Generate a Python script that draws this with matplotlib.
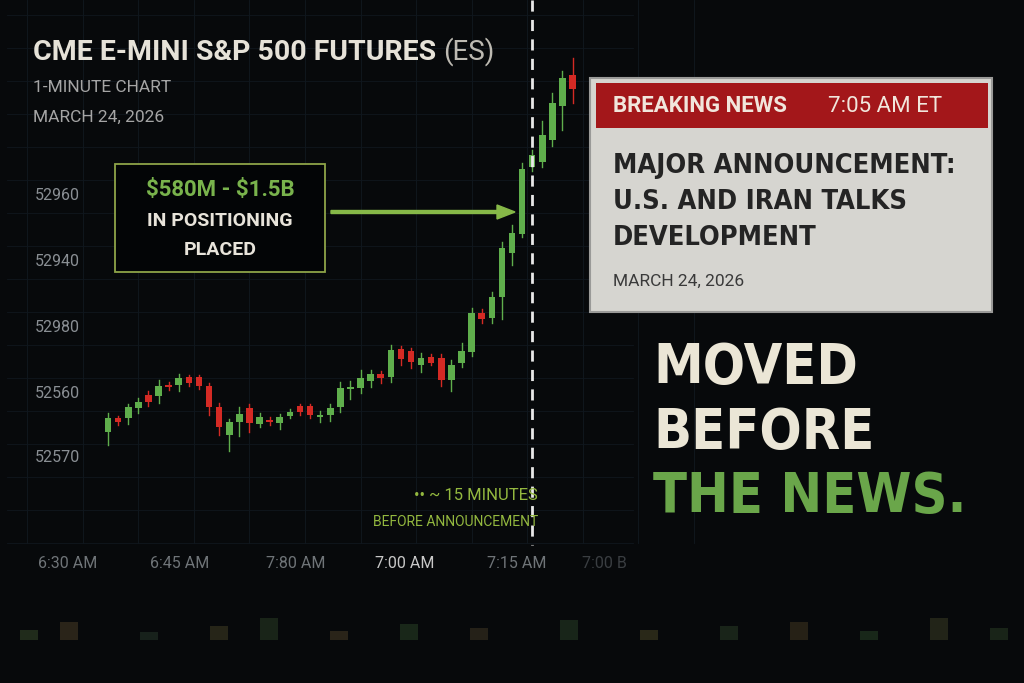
import matplotlib.pyplot as plt
from matplotlib.patches import Rectangle, FancyArrow
import numpy as np

# candle data (price levels in chart units, higher = up)
opens = [251, 265, 265, 275, 288, 287, 298, 298, 306, 306,
         297, 276, 248, 261, 275, 259, 263, 260, 267, 277,
         277, 266, 268, 276, 294, 295, 302, 309, 306, 334,
         332, 318, 326, 325, 303, 320, 331, 370, 365, 386,
         430, 449, 516, 521, 543, 577, 608]
closes = [265, 261, 276, 281, 281, 297, 296, 305, 300, 297,
          276, 256, 261, 269, 260, 266, 261, 266, 271, 271,
          268, 268, 275, 295, 295, 305, 309, 305, 333, 324,
          321, 325, 320, 303, 318, 332, 370, 364, 386, 435,
          450, 514, 528, 548, 580, 605, 594]
highs = [270, 267, 279, 285, 292, 303, 301, 309, 308, 308,
         300, 280, 264, 276, 279, 270, 266, 269, 274, 279,
         279, 272, 279, 301, 302, 313, 313, 312, 338, 337,
         335, 330, 329, 329, 323, 340, 375, 374, 391, 441,
         458, 520, 533, 562, 590, 612, 625]
lows = [238, 258, 259, 270, 277, 280, 293, 292, 297, 294,
        268, 248, 232, 247, 251, 256, 258, 254, 265, 268,
        265, 261, 262, 271, 284, 290, 296, 300, 301, 318,
        315, 311, 318, 297, 292, 316, 327, 360, 360, 364,
        418, 446, 512, 516, 537, 553, 580]
down = [False, True, False, False, True, False, True, False, True, True,
        True, True, False, False, True, False, True, False, False, True,
        True, False, False, False, False, False, False, True, False, True,
        True, False, True, True, False, False, False, True, False, False,
        False, False, False, False, False, False, True]

ytick_pos = [488, 421, 355, 290, 225]
ytick_labels = ['52960', '52940', '52980', '52560', '52570']
xtick_pos = [-4.0, 7.1, 18.6, 29.4, 40.5, 49.2]
xtick_labels = ['6:30 AM', '6:45 AM', '7:80 AM', '7:00 AM', '7:15 AM', '7:00 B']

o = np.array(opens, float); c = np.array(closes, float)
lo_body = np.minimum(o, c); hi_body = np.maximum(o, c)

BG = '#07090b'
fig = plt.figure(figsize=(10.24, 6.83), dpi=100, facecolor=BG)
ax = fig.add_axes([0, 0, 1, 1])
ax.set_facecolor(BG)
ax.set_xlim(-10.7, 90.7)
ax.set_ylim(0, 683)
ax.axis('off')

# faint grid
for gx in np.arange(-8, 62, 5.5):
    ax.plot([gx, gx], [140, 683], color='#111920', lw=0.6, zorder=0)
for gy in np.arange(140, 683, 33):
    ax.plot([-10, 52], [gy, gy], color='#10171e', lw=0.6, zorder=0)

for i in range(len(opens)):
    col = '#d42a24' if down[i] else '#5fae4c'
    ax.plot([i, i], [lows[i], highs[i]], color=col, lw=1.0, zorder=3)
    ax.bar(i, max(hi_body[i] - lo_body[i], 2), bottom=lo_body[i], width=0.65,
           color=col, zorder=4)

for p, l in zip(ytick_pos, ytick_labels):
    ax.text(-7.3, p, l, color='#8a8f94', fontsize=11.5, va='center', ha='left',
            family='Roboto')
for p, l in zip(xtick_pos, xtick_labels):
    colr = '#c8c8c8' if l == '7:00 AM' else '#6f7478'
    if l == '7:00 B':
        colr = '#3a3e42'
    ax.text(p, 120, l, color=colr, fontsize=11.5, va='center', ha='center',
            family='Roboto')

# overlay axes in pixel coords
ov = fig.add_axes([0, 0, 1, 1])
ov.set_xlim(0, 1024); ov.set_ylim(683, 0); ov.axis('off')
ov.patch.set_alpha(0)

ov.text(33, 52, 'CME E-MINI S&P 500 FUTURES', color='#e6e2d8', fontsize=20.5,
        fontweight='bold', va='center', family='Roboto')
ov.text(443, 52, '(ES)', color='#bdbab2', fontsize=20, va='center', family='Roboto')
ov.text(33, 88, '1-MINUTE CHART', color='#a5a5a5', fontsize=12.5, va='center', family='Roboto')
ov.text(33, 117, 'MARCH 24, 2026', color='#a5a5a5', fontsize=12.5, va='center', family='Roboto')

ov.plot([532, 532], [0, 545], color='#e8e8e8', lw=2, ls=(0, (4, 3)))

# green callout box
ov.add_patch(Rectangle((115, 164), 210, 108, fill=True, fc='#030506',
                       ec='#8ea448', lw=1.3))
ov.text(220, 190, r'\$580M - \$1.5B', color='#79b34c', fontsize=16, fontweight='bold',
        ha='center', va='center', family='Roboto')
ov.text(220, 221, 'IN POSITIONING', color='#e8e4da', fontsize=14, fontweight='bold',
        ha='center', va='center', family='Roboto')
ov.text(220, 250, 'PLACED', color='#e8e4da', fontsize=14, fontweight='bold',
        ha='center', va='center', family='Roboto')
ov.add_patch(FancyArrow(331, 212, 166, 0, width=3, head_width=14, head_length=18,
                        length_includes_head=False, color='#86b848'))

ov.text(538, 496, '•• ~ 15 MINUTES', color='#93b83f', fontsize=12, ha='right',
        va='center', family='Roboto')
ov.text(538, 522, 'BEFORE ANNOUNCEMENT', color='#93b83f', fontsize=10, ha='right',
        va='center', family='Roboto')

# breaking news card
ov.add_patch(Rectangle((590, 78), 402, 234, fc='#d6d5d0', ec='#9a9a98', lw=1.5, zorder=5))
ov.add_patch(Rectangle((596, 83), 392, 45, fc='#a3171a', zorder=6))
ov.text(613, 106, 'BREAKING NEWS', color='#f1e6dc', fontsize=16, fontweight='bold',
        va='center', zorder=7, family='Roboto')
ov.text(828, 106, '7:05 AM ET', color='#f1e6dc', fontsize=16, va='center', zorder=7,
        family='Roboto')
for yy, t in zip([166, 202, 238], ['MAJOR ANNOUNCEMENT:', 'U.S. AND IRAN TALKS',
                                   'DEVELOPMENT']):
    ov.text(613, yy, t, color='#242424', fontsize=19.5, fontweight='bold', va='center',
            zorder=7, family='DejaVu Sans', fontstretch='condensed')
ov.text(613, 281, 'MARCH 24, 2026', color='#3a3a3a', fontsize=12.5, va='center', zorder=7,
        family='Roboto')

for yy, t, colr in zip([368, 433, 497], ['MOVED', 'BEFORE', 'THE NEWS.'],
                       ['#ebe6d6', '#ebe6d6', '#6aa64a']):
    ov.text(653, yy, t, color=colr, fontsize=40, fontweight='bold', va='center',
            family='DejaVu Sans', fontstretch='condensed')

# blurred city lights at bottom
light_x = [20, 60, 140, 210, 260, 330, 400, 470, 560, 640, 720, 790, 860, 930, 990]
light_h = [10, 18, 8, 14, 22, 9, 16, 12, 20, 10, 14, 18, 9, 22, 12]
light_c = ['#2c3a22', '#3a3020', '#1e2c22', '#34321e', '#22301e', '#3a3020', '#22341f',
           '#322c1e', '#203220', '#38361e', '#223020', '#342c1c', '#203420', '#2e301e',
           '#22301e']
for xx, hh, cc in zip(light_x, light_h, light_c):
    ov.add_patch(Rectangle((xx, 640 - hh), 18, hh, fc=cc, alpha=0.7, lw=0))

fig.savefig('out.png', dpi=100, facecolor=BG)
